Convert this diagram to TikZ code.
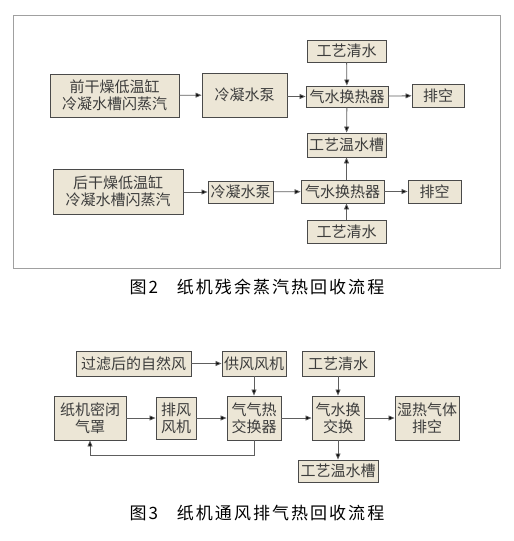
\documentclass[tikz,border=0pt]{standalone}
\usepackage{fontspec}
\usepackage{tikz}
\usepackage{xcolor}
\usetikzlibrary{arrows.meta, positioning}
\setmainfont{Noto Sans CJK SC}
\newfontfamily\capfont[LetterSpace=12]{Noto Sans CJK SC}
\definecolor{boxfill}{HTML}{ECE6D6}
\definecolor{boxline}{HTML}{4A4A4A}
\definecolor{boxtext}{HTML}{3C3C3C}
\definecolor{flowline}{HTML}{5E5E5E}
\definecolor{frameline}{HTML}{A0A0A0}

\tikzset{
  procbox/.style={draw=boxline, line width=0.9pt, fill=boxfill, text=boxtext,
    inner sep=0pt, align=center, font=\fontsize{15}{17}\selectfont},
  flow/.style={draw=flowline, line width=0.8pt, -{Triangle[length=6pt, width=5pt, fill=black]}},
  caption/.style={font=\fontsize{17}{19}\capfont, text=black}
}

\begin{document}
\begin{tikzpicture}[x=1pt, y=-1pt]
\useasboundingbox (0,0) rectangle (514,541);
% figure 2 frame
\draw[frameline, line width=0.8pt] (13,15) rectangle (500,268);

% figure 2: front line
\node[procbox, minimum width=129pt, minimum height=43pt] (fdry) at (114.5,95.5) {前干燥低温缸\\冷凝水槽闪蒸汽};
\node[procbox, minimum width=85pt, minimum height=44pt] (fpump) at (244.5,95) {冷凝水泵};
\node[procbox, minimum width=82pt, minimum height=21pt] (fhx) at (347,96.5) {气水换热器};
\node[procbox, minimum width=52pt, minimum height=23pt] (fvent) at (438,95.5) {排空};
\node[procbox, minimum width=79pt, minimum height=22pt] (fwater) at (346.5,51) {工艺清水};
\node[procbox, minimum width=79pt, minimum height=24pt] (tank) at (346.5,145) {工艺温水槽};

% figure 2: rear line
\node[procbox, minimum width=130pt, minimum height=45pt] (rdry) at (118,191.5) {后干燥低温缸\\冷凝水槽闪蒸汽};
\node[procbox, minimum width=65pt, minimum height=22pt] (rpump) at (240.5,192) {冷凝水泵};
\node[procbox, minimum width=83pt, minimum height=23pt] (rhx) at (342.5,191.5) {气水换热器};
\node[procbox, minimum width=53pt, minimum height=23pt] (rvent) at (434.5,191.5) {排空};
\node[procbox, minimum width=79pt, minimum height=23pt] (rwater) at (346.5,231.5) {工艺清水};

\draw[flow] (fdry) -- (fpump);
\draw[flow] (fpump.east |- fhx) -- (fhx);
\draw[flow] (fhx) -- (fvent);
\draw[flow] (fwater) -- (fhx);
\draw[flow] (fhx) -- (tank);
\draw[flow] ([xshift=1pt]rdry.east |- rpump) -- (rpump);
\draw[flow] (rpump) -- (rhx);
\draw[flow] (rhx) -- (rvent);
\draw[flow] (rhx.north -| tank.south) -- (tank.south);
\draw[flow] (rwater.north) -- (rwater.north |- rhx.south);

\node[caption] (cap2) at (257,287) {图2\hspace{1.1em}纸机残余蒸汽热回收流程};

% figure 3
\node[procbox, minimum width=115pt, minimum height=25pt] (air) at (133.5,363.5) {过滤后的自然风};
\node[procbox, minimum width=64pt, minimum height=25pt] (sfan) at (254,363.5) {供风风机};
\node[procbox, minimum width=72pt, minimum height=25pt] (cwater) at (338,363.5) {工艺清水};
\node[procbox, minimum width=72pt, minimum height=44pt] (hood) at (90,418) {纸机密闭\\气罩};
\node[procbox, minimum width=40pt, minimum height=42pt] (efan) at (176,418) {排风\\风机};
\node[procbox, minimum width=54pt, minimum height=44pt] (aahx) at (254,418) {气气热\\交换器};
\node[procbox, minimum width=52pt, minimum height=44pt] (awhx) at (338,418) {气水换\\交换};
\node[procbox, minimum width=64pt, minimum height=44pt] (exh) at (427,418) {湿热气体\\排空};
\node[procbox, minimum width=80pt, minimum height=22pt] (wtank) at (338,471) {工艺温水槽};

\draw[flow] (air) -- (sfan);
\draw[flow] (sfan) -- (aahx);
\draw[flow] (hood) -- (efan);
\draw[flow] (efan) -- (aahx);
\draw[flow] (aahx) -- (awhx);
\draw[flow] (awhx) -- (exh);
\draw[flow] (cwater) -- (awhx);
\draw[flow] (awhx) -- (wtank);
\draw[flow] (aahx.south) -- ++(0,15) -| (hood.south);

\node[caption] (cap3) at (257,513) {图3\hspace{1.1em}纸机通风排气热回收流程};
\end{tikzpicture}
\end{document}
